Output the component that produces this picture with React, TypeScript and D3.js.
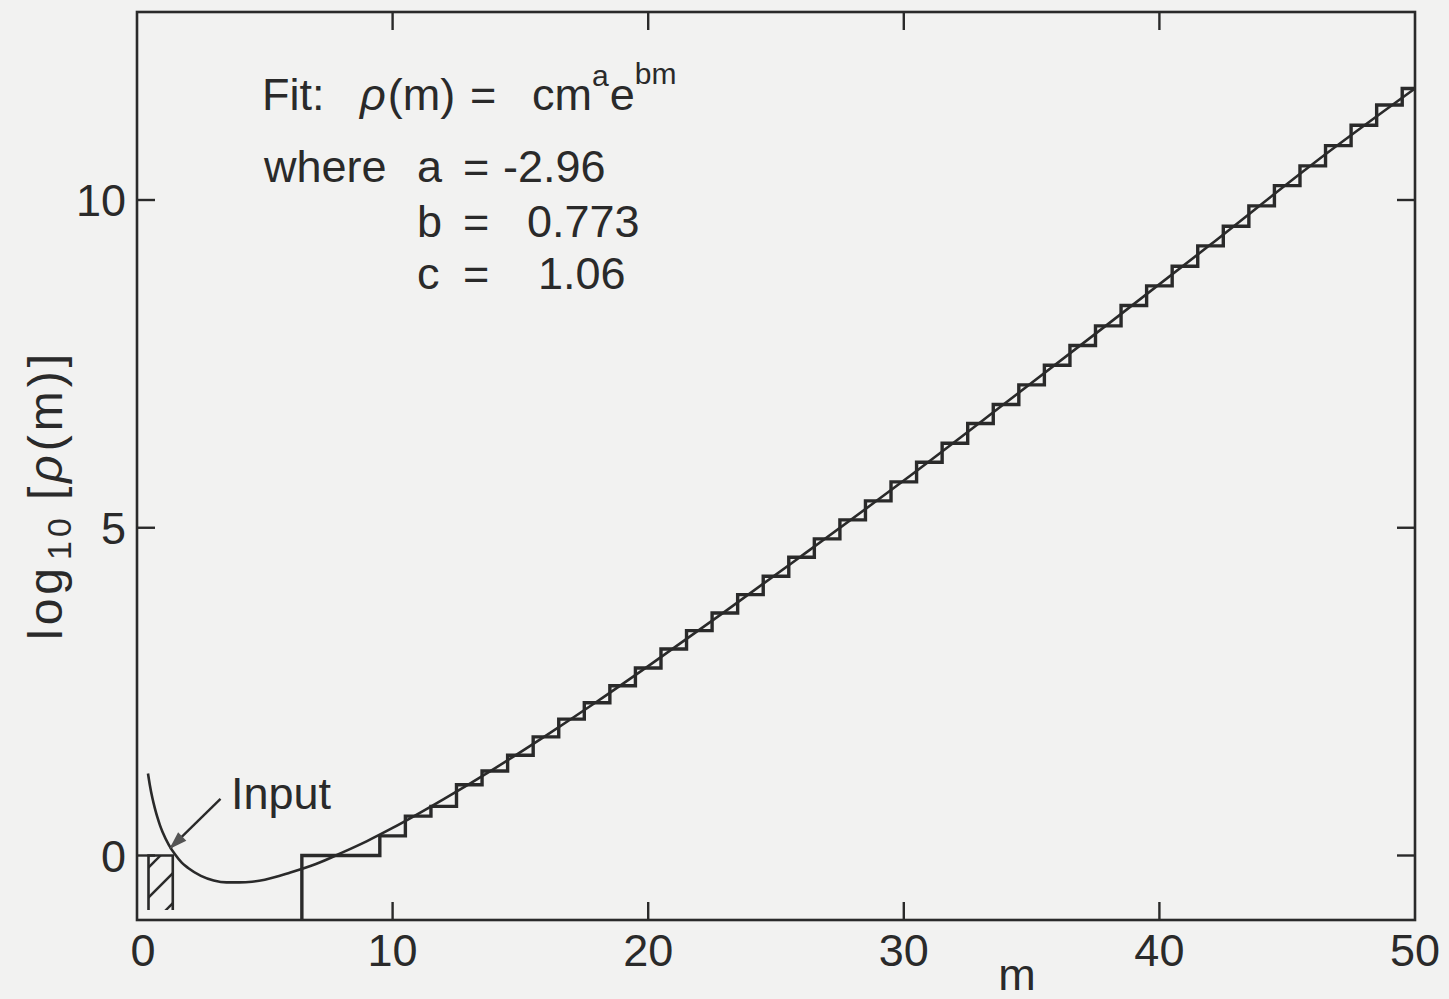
import React from "react";
import * as d3 from "d3";

// ---------- data ----------
const xTickValues = [0, 10, 20, 30, 40, 50];
const xInnerTicks = [10, 20, 30, 40];
const yTickValues = [0, 5, 10];

// fitted curve log10[rho(m)]
const curveM = [0.43, 0.5, 0.6, 0.7, 0.8, 0.9, 1, 1.25, 1.5, 1.75, 2, 2.5, 3, 3.5, 4, 4.5, 5, 6, 7, 8, 9, 10, 12, 14, 16, 18, 20, 23, 26, 30, 34, 38, 42, 46, 50];
const curveV = [1.25, 1.08, 0.88, 0.72, 0.58, 0.46, 0.36, 0.16, 0.01, -0.11, -0.19, -0.31, -0.38, -0.41, -0.41, -0.4, -0.37, -0.26, -0.13, 0.04, 0.22, 0.42, 0.86, 1.33, 1.83, 2.35, 2.89, 3.72, 4.57, 5.72, 6.91, 8.11, 9.32, 10.55, 11.7];

// histogram (staircase)
const firstBinStart = 6.45;
const firstBinValue = 0;
const binCenters = [10, 11, 12, 13, 14, 15, 16, 17, 18, 19, 20, 21, 22, 23, 24, 25, 26, 27, 28, 29, 30, 31, 32, 33, 34, 35, 36, 37, 38, 39, 40, 41, 42, 43, 44, 45, 46, 47, 48, 49, 50];
const binValues = [0.3, 0.6, 0.75, 1.08, 1.29, 1.53, 1.81, 2.08, 2.33, 2.59, 2.86, 3.15, 3.43, 3.7, 3.98, 4.26, 4.55, 4.83, 5.12, 5.41, 5.7, 6.0, 6.29, 6.59, 6.88, 7.18, 7.48, 7.78, 8.08, 8.39, 8.69, 8.99, 9.3, 9.6, 9.91, 10.22, 10.52, 10.83, 11.14, 11.45, 11.7];

// hatched "input" bin
const inputBin = { m0: 0.45, m1: 1.4, top: 0, bottom: -0.83 };
const inputPoint = { m: 1.35, v: 0.13 };

const fitTitle = "Fit:";
const paramNames = ["a", "b", "c"];
const paramValues = ["-2.96", "0.773", "1.06"];

// ---------- layout ----------
const W = 1449;
const H = 999;
const left = 137;
const right = 1415;
const top = 12;
const bottom = 920;
const INK = "#2a2a2a";
const FONT = "'Liberation Sans', Arial, sans-serif";
const FS = 45;
const TICK = 18;

export default function App() {
  const x = d3.scaleLinear().domain([0, 50]).range([left, right]);
  const y = d3.scaleLinear().domain([0, 10]).range([855.5, 200]);

  const curvePath = d3
    .line<number>()
    .x((_, i) => x(curveM[i]))
    .y((d) => y(d))
    .curve(d3.curveMonotoneX)(curveV) as string;

  const stepPts: [number, number][] = [
    [firstBinStart, y.invert(bottom)],
    [firstBinStart, firstBinValue],
    ...binCenters.map((c, i) => [c - 0.5, binValues[i]] as [number, number]),
    [50, binValues[binValues.length - 1]],
  ];
  const stepPath = d3
    .line<[number, number]>()
    .x((d) => x(d[0]))
    .y((d) => y(d[1]))
    .curve(d3.curveStepAfter)(stepPts) as string;

  // hatched box
  const bx0 = x(inputBin.m0);
  const bx1 = x(inputBin.m1);
  const by0 = y(inputBin.top);
  const by1 = y(inputBin.bottom);
  const hatchCs = d3.range(bx0 + by0 + 12, bx1 + by1, 30);

  const px = x(inputPoint.m);
  const py = y(inputPoint.v);
  const ax = px + 49;
  const ay = py - 48;
  const ang = Math.atan2(ay - py, ax - px);
  const hl = 14;
  const hw = 4.5;
  const head = [
    [px, py],
    [px + hl * Math.cos(ang) - hw * Math.sin(ang), py + hl * Math.sin(ang) + hw * Math.cos(ang)],
    [px + hl * Math.cos(ang) + hw * Math.sin(ang), py + hl * Math.sin(ang) - hw * Math.cos(ang)],
  ]
    .map((p) => p.join(","))
    .join(" ");

  const rowY = [182, 237, 289];
  const valueX = [503, 527, 538];

  return (
    <svg
      width={W}
      height={H}
      style={{ position: "absolute", left: 0, top: 0, background: "#f2f2f1" }}
      fontFamily={FONT}
    >
      <rect x={0} y={0} width={W} height={H} fill="#f2f2f1" />
      <defs>
        <clipPath id="boxclip">
          <rect x={bx0} y={by0} width={bx1 - bx0} height={by1 - by0} />
        </clipPath>
      </defs>

      {/* frame */}
      <rect x={left} y={top} width={right - left} height={bottom - top} fill="none" stroke={INK} strokeWidth={2.6} />

      {/* ticks */}
      {xInnerTicks.map((t) => (
        <g key={"xt" + t}>
          <line x1={x(t)} x2={x(t)} y1={bottom} y2={bottom - TICK} stroke={INK} strokeWidth={2.4} />
          <line x1={x(t)} x2={x(t)} y1={top} y2={top + TICK} stroke={INK} strokeWidth={2.4} />
        </g>
      ))}
      {yTickValues.map((t) => (
        <g key={"yt" + t}>
          <line x1={left} x2={left + TICK} y1={y(t)} y2={y(t)} stroke={INK} strokeWidth={2.4} />
          <line x1={right} x2={right - TICK} y1={y(t)} y2={y(t)} stroke={INK} strokeWidth={2.4} />
        </g>
      ))}

      {/* tick labels */}
      {xTickValues.map((t) => (
        <text key={"xl" + t} x={x(t) + (t === 0 ? 6 : 0)} y={966} textAnchor="middle" fontSize={FS} fill={INK}>
          {t}
        </text>
      ))}
      {yTickValues.map((t) => (
        <text key={"yl" + t} x={126} y={y(t) + 16} textAnchor="end" fontSize={FS} fill={INK}>
          {t}
        </text>
      ))}

      {/* axis titles */}
      <text x={1017} y={990} textAnchor="middle" fontSize={FS} fill={INK}>
        m
      </text>
      <text transform="translate(62,640) rotate(-90)" fontSize={48} fill={INK} letterSpacing={4}>
        log
        <tspan fontSize={34} dy={9} dx={4}>10</tspan>
        <tspan dy={-9} dx={14}>[</tspan>
        <tspan fontStyle="italic">ρ</tspan>
        <tspan>(m)]</tspan>
      </text>

      {/* hatched input bin */}
      <g clipPath="url(#boxclip)">
        {hatchCs.map((c) => (
          <line key={c} x1={c - by1 - 5} y1={by1 + 5} x2={c - by0 + 5} y2={by0 - 5} stroke={INK} strokeWidth={2.4} />
        ))}
      </g>
      <path d={`M${bx0},${by1}V${by0}H${bx1}V${by1}`} fill="none" stroke={INK} strokeWidth={2.6} />

      {/* staircase */}
      <path d={stepPath} fill="none" stroke={INK} strokeWidth={3.4} strokeLinejoin="miter" />

      {/* fit curve */}
      <path d={curvePath} fill="none" stroke={INK} strokeWidth={2.6} />

      {/* Input annotation */}
      <line x1={px} y1={py} x2={ax} y2={ay} stroke={INK} strokeWidth={2.4} />
      <polygon points={head} fill="#555" stroke="#555" strokeWidth={2} />
      <text x={231} y={809} fontSize={FS} fill={INK}>
        Input
      </text>

      {/* fit formula */}
      <text y={110} fontSize={FS} fill={INK}>
        <tspan x={262}>{fitTitle}</tspan>
        <tspan x={360} fontStyle="italic">ρ</tspan>
        <tspan dx={2}>(m)</tspan>
        <tspan x={470}>=</tspan>
        <tspan x={532}>cm</tspan>
        <tspan fontSize={30} dy={-24}>a</tspan>
        <tspan dy={24} dx={1}>e</tspan>
        <tspan fontSize={30} dy={-26}>bm</tspan>
      </text>
      <text x={264} y={rowY[0]} fontSize={FS} fill={INK}>
        where
      </text>
      {paramNames.map((p, i) => (
        <text key={p} y={rowY[i]} fontSize={FS} fill={INK}>
          <tspan x={417}>{p}</tspan>
          <tspan x={463}>=</tspan>
          <tspan x={valueX[i]}>{paramValues[i]}</tspan>
        </text>
      ))}
    </svg>
  );
}
